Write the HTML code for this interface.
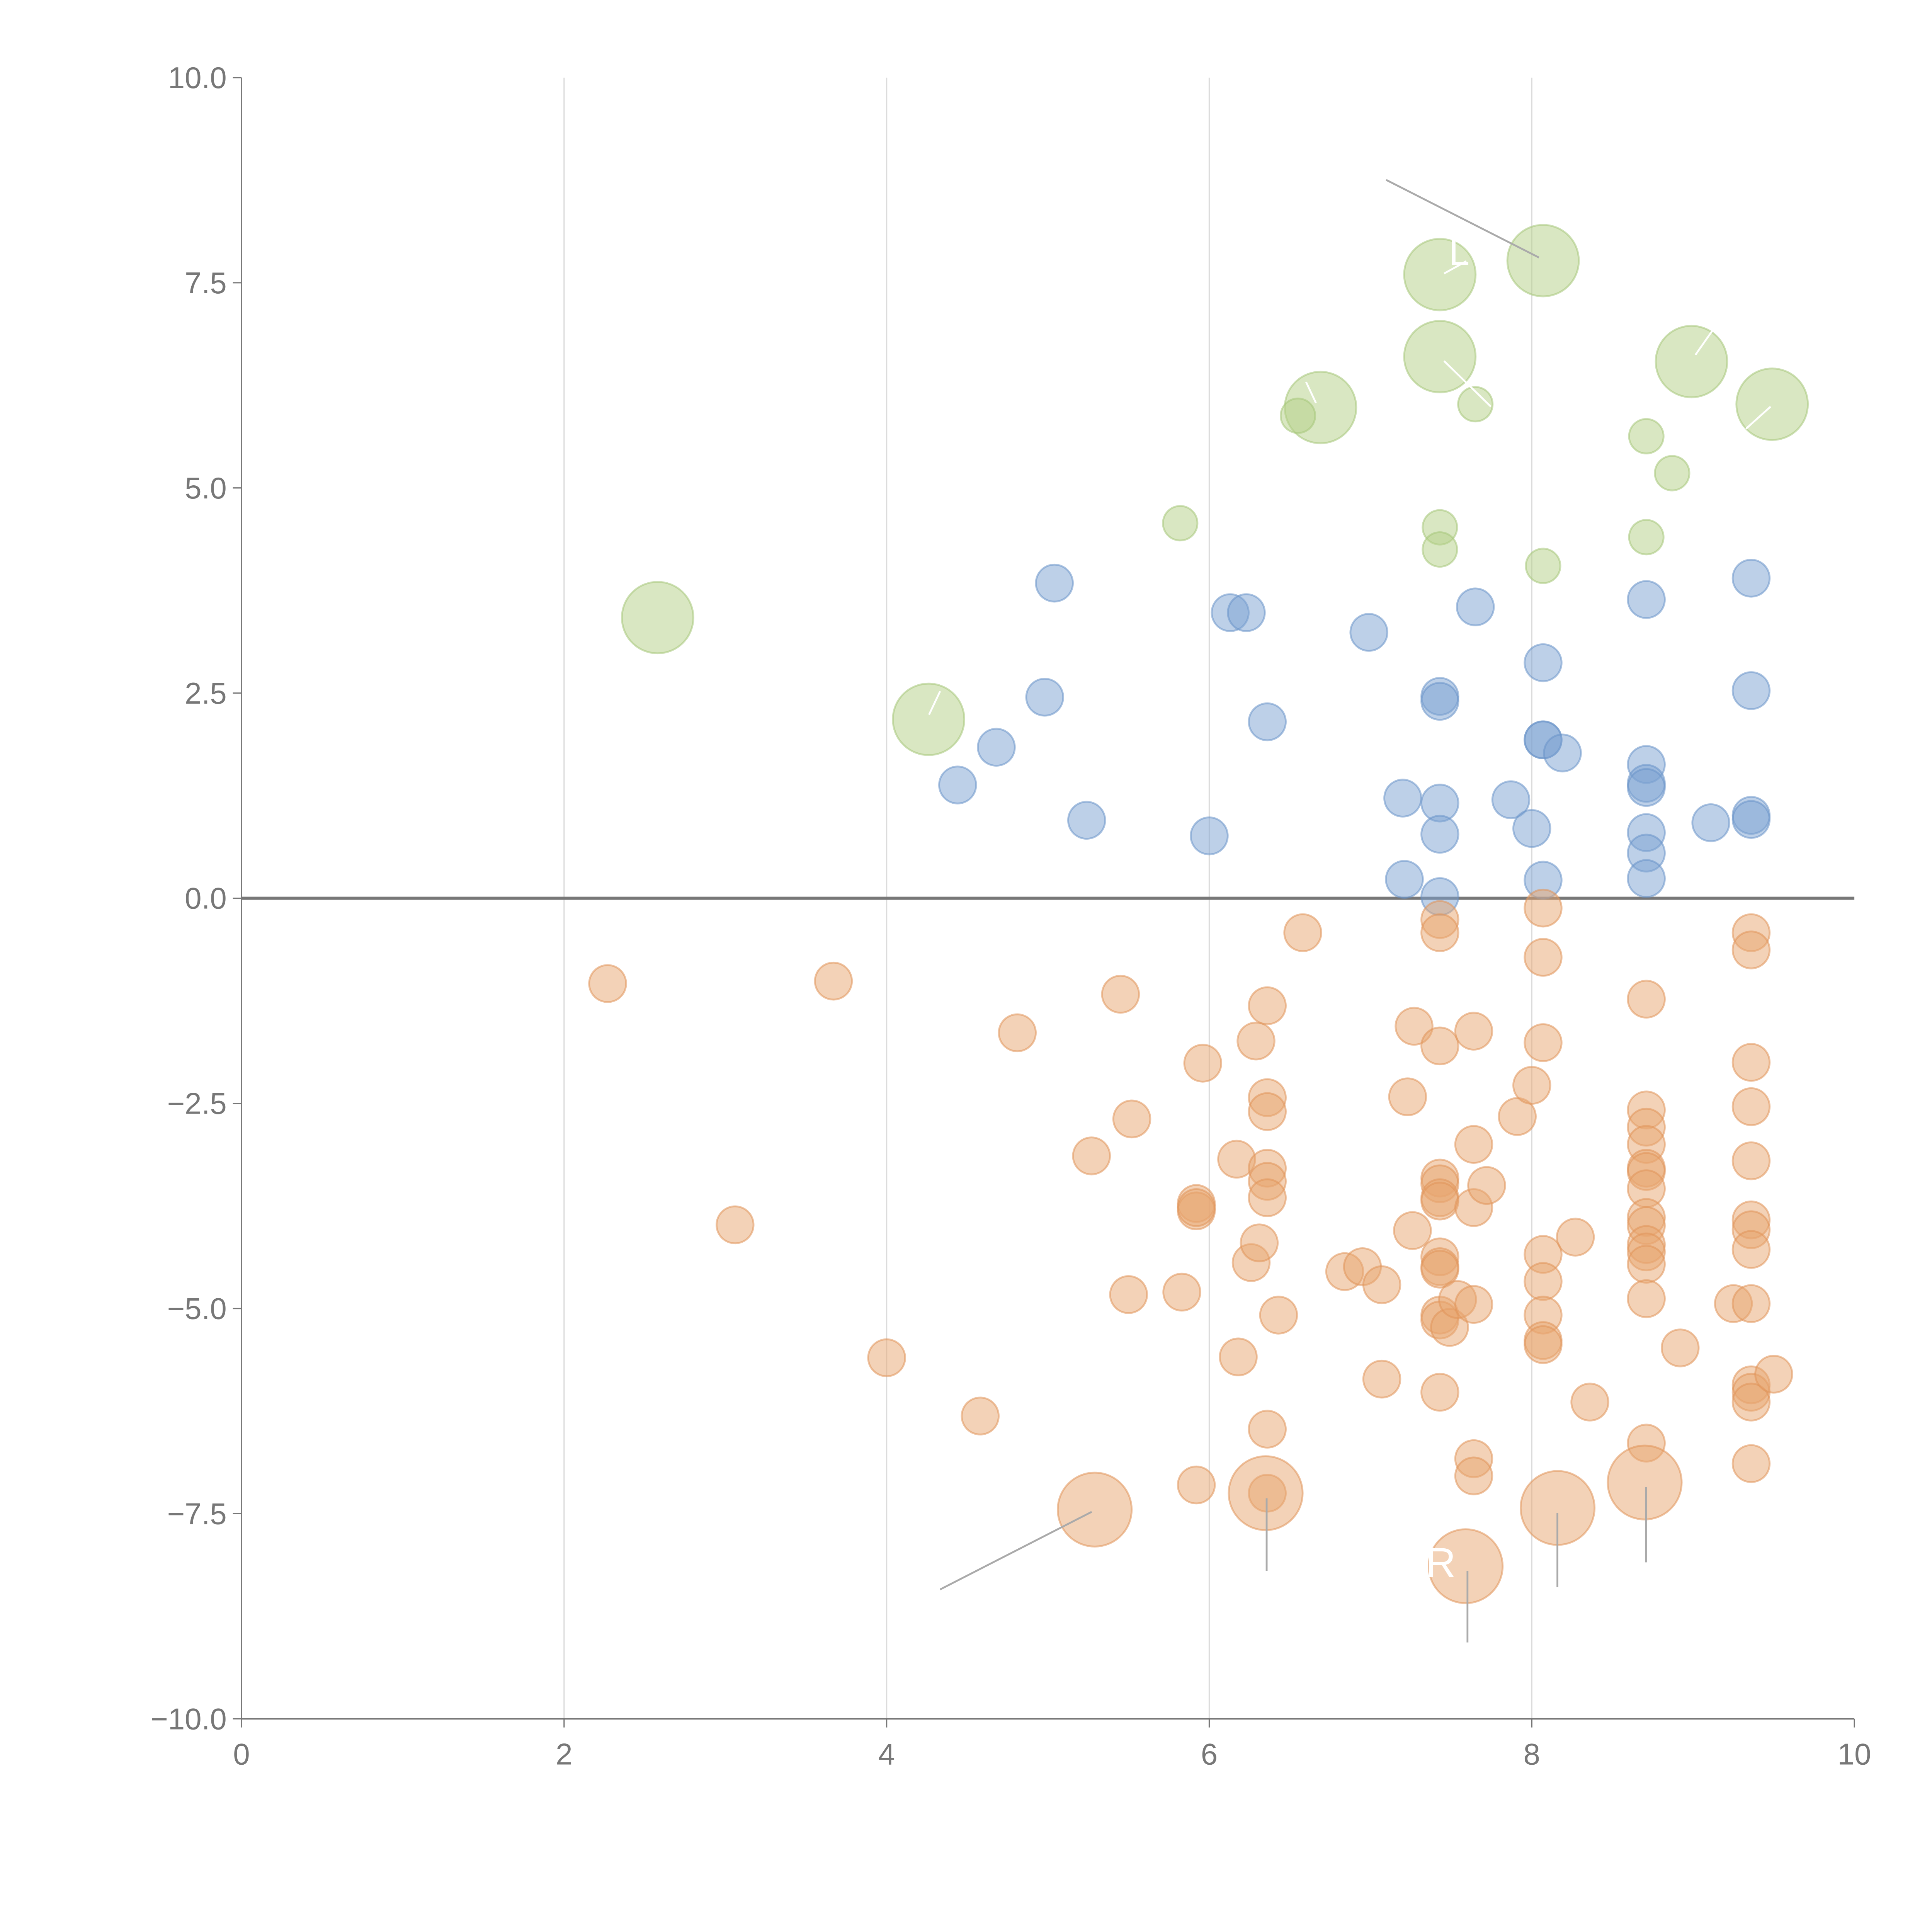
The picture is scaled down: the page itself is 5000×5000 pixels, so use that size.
<!DOCTYPE html>
<html><head><meta charset="utf-8"><style>
html,body{margin:0;padding:0;background:#fff;}
svg{display:block;}
text{font-family:"Liberation Sans",sans-serif;}
</style></head><body>
<svg id="chart" width="5000" height="5000" viewBox="0 0 1568 1568" xmlns="http://www.w3.org/2000/svg">
<g id="grid"></g>
<g id="axes"></g>
<g id="marks"></g>
<g id="notes"></g>
</svg>
<script>
const xTicks=[0,2,4,6,8,10];
const yTicks=[10,7.5,5,2.5,0,-2.5,-5,-7.5,-10];
const yTickLabels=["10.0","7.5","5.0","2.5","0.0","\u22122.5","\u22125.0","\u22127.5","\u221210.0"];
const greenSmallX=[5.82,6.55,7.65,7.43,7.43,8.07,8.71,8.71,8.87];
const greenSmallY=[4.57,5.88,6.02,4.52,4.25,4.05,5.63,4.40,5.18];
const greenLargeX=[2.58,4.26,6.69,7.43,7.43,8.07,8.99,9.49];
const greenLargeY=[3.42,2.18,5.98,7.60,6.60,7.77,6.54,6.02];
const blueX=[5.04,4.98,4.68,4.44,5.24,6.00,6.13,6.23,6.36,6.99,7.20,7.21,7.43,7.43,7.43,7.43,7.43,7.65,7.87,8.00,8.07,8.07,8.07,8.19,8.07,8.71,8.71,8.71,8.71,8.71,8.71,8.71,9.11,9.36,9.36,9.36,9.36];
const blueY=[3.84,2.45,1.84,1.38,0.95,0.76,3.48,3.48,2.15,3.24,1.22,0.23,2.46,2.40,1.16,0.78,0.02,3.55,1.20,0.85,2.87,1.93,1.93,1.77,0.22,3.64,1.63,1.40,1.35,0.80,0.55,0.24,0.92,3.90,2.53,1.01,0.96];
const orangeX=[2.27,3.67,3.06,4.00,4.58,4.81,5.45,5.27,5.52,5.50,5.83,5.92,5.96,5.92,5.92,5.92,6.17,6.18,6.26,6.29,6.31,6.36,6.36,6.36,6.36,6.36,6.36,6.36,6.36,6.43,6.58,6.84,6.95,7.07,7.07,7.23,7.27,7.26,
7.43,7.43,7.43,7.43,7.43,7.43,7.43,7.43,7.43,7.43,7.43,7.43,7.43,7.49,7.54,7.64,7.64,7.64,7.64,7.64,7.64,7.72,7.91,8.00,
8.07,8.07,8.07,8.07,8.07,8.07,8.07,8.07,8.27,8.36,
8.71,8.71,8.71,8.71,8.71,8.71,8.71,8.71,8.71,8.71,8.71,8.71,8.71,8.71,8.92,9.25,
9.36,9.36,9.36,9.36,9.36,9.36,9.36,9.36,9.36,9.36,9.36,9.36,9.36,9.50];
const orangeY=[-1.04,-1.01,-3.98,-5.60,-6.31,-1.64,-1.17,-3.14,-2.69,-4.83,-4.80,-7.15,-2.01,-3.72,-3.81,-3.77,-3.18,-5.59,-4.44,-1.74,-4.20,-1.31,-2.43,-2.60,-3.29,-3.45,-3.65,-6.47,-7.25,-5.08,-0.42,-4.55,-4.49,-4.71,-5.86,-2.42,-1.56,-4.05,
-0.26,-0.42,-1.80,-3.41,-3.48,-3.65,-3.69,-4.37,-4.49,-4.52,-5.08,-5.14,-6.02,-5.23,-4.89,-1.62,-3.00,-3.77,-4.95,-6.83,-7.04,-3.50,-2.66,-2.28,
-0.12,-0.72,-1.76,-4.34,-4.67,-5.08,-5.39,-5.44,-4.13,-6.14,
-1.23,-2.58,-2.79,-3.00,-3.29,-3.33,-3.54,-3.89,-3.99,-4.22,-4.31,-4.46,-4.88,-6.64,-5.48,-4.94,
-0.42,-0.63,-2.00,-2.54,-3.20,-3.92,-4.04,-4.28,-4.94,-5.93,-6.02,-6.14,-6.89,-5.80];
const orangeLargeX=[5.29,6.35,7.59,8.16,8.70];
const orangeLargeY=[-7.45,-7.25,-8.14,-7.43,-7.12];

const NS="http://www.w3.org/2000/svg";
const X0=196,X1=1505,Y0=1395,Y1=63;
function sx(v){return X0+(v-0)/(10-0)*(X1-X0);}
function sy(v){return Y0-(v+10)/20*(Y0-Y1);}
function mk(tag,attrs,parent){const e=document.createElementNS(NS,tag);for(const k in attrs)e.setAttribute(k,attrs[k]);parent.appendChild(e);return e;}
const grid=document.getElementById('grid'),axes=document.getElementById('axes'),marks=document.getElementById('marks'),notes=document.getElementById('notes');

xTicks.forEach((t,i)=>{
  if(t>0&&t<10){const g=mk('line',{x1:sx(t),x2:sx(t),y1:Y1,y2:Y0,stroke:'#dcdcdc','stroke-width':1},grid);
  
  }
  const tk=mk('line',{x1:sx(t),x2:sx(t),y1:Y0,y2:Y0+7,stroke:'#777','stroke-width':1},axes);
  
  
  const lb=mk('text',{x:sx(t),y:Y0+37,'text-anchor':'middle','font-size':24.5,fill:'#777'},axes);
  lb.textContent=String(t);
  
  
});
yTicks.forEach((t,i)=>{
  const tk=mk('line',{x1:X0-7,x2:X0,y1:sy(t),y2:sy(t),stroke:'#777','stroke-width':1},axes);
  
  
  const lb=mk('text',{x:X0-12,y:sy(t)+8.5,'text-anchor':'end','font-size':24.5,fill:'#777'},axes);
  lb.textContent=yTickLabels[i];
  
  
});
const ya=mk('line',{x1:X0,x2:X0,y1:Y1,y2:Y0,stroke:'#777','stroke-width':1.2},axes);


const xa=mk('line',{x1:X0,x2:X1,y1:Y0,y2:Y0,stroke:'#777','stroke-width':1.2},axes);



function drawSeries(xs,ys,r,fill,stroke,name){
  xs.forEach((x,i)=>{
    const c=mk('circle',{cx:sx(x),cy:sy(ys[i]),r:r,fill:fill,'fill-opacity':0.5,stroke:stroke,'stroke-opacity':0.55,'stroke-width':1.5},marks);
    
    
  });
}
drawSeries(greenLargeX,greenLargeY,29,'#b3cf86','#a6c67a','green-large-bubble');
drawSeries(greenSmallX,greenSmallY,14,'#b3cf86','#a6c67a','green-bubble');
drawSeries(blueX,blueY,15,'#7ba1d1','#6a93c9','blue-bubble');
drawSeries(orangeX,orangeY,15,'#e8a570','#e0945a','orange-bubble');
drawSeries(orangeLargeX,orangeLargeY,30,'#e8a570','#e0945a','orange-large-bubble');

const zl=mk('line',{x1:X0,x2:X1,y1:sy(0),y2:sy(0),stroke:'#777','stroke-width':2.5},axes);



const grayLines=[[1125,146,1249,209],[886,1227,763,1290],[1028,1216,1028,1275],[1191,1275,1191,1333],[1264,1228,1264,1288],[1336,1207,1336,1268]];
grayLines.forEach(l=>{const e=mk('line',{x1:l[0],y1:l[1],x2:l[2],y2:l[3],stroke:'#aaa','stroke-width':1.5},notes);

});
const whiteLines=[[1172,222,1190,212],[1172,293,1210,330],[1060,310,1068,327],[1376,288,1390,268],[1417,348,1437,330],[754,580,763,561]];
whiteLines.forEach(l=>{const e=mk('line',{x1:l[0],y1:l[1],x2:l[2],y2:l[3],stroke:'#fff','stroke-width':1.5},notes);

});
const t1=mk('text',{x:1157,y:1280,'font-size':34,fill:'#fff'},notes);t1.textContent='R';


const t2=mk('text',{x:1176,y:215,'font-size':30,fill:'#fff'},notes);t2.textContent='L';


</script>
</body></html>
